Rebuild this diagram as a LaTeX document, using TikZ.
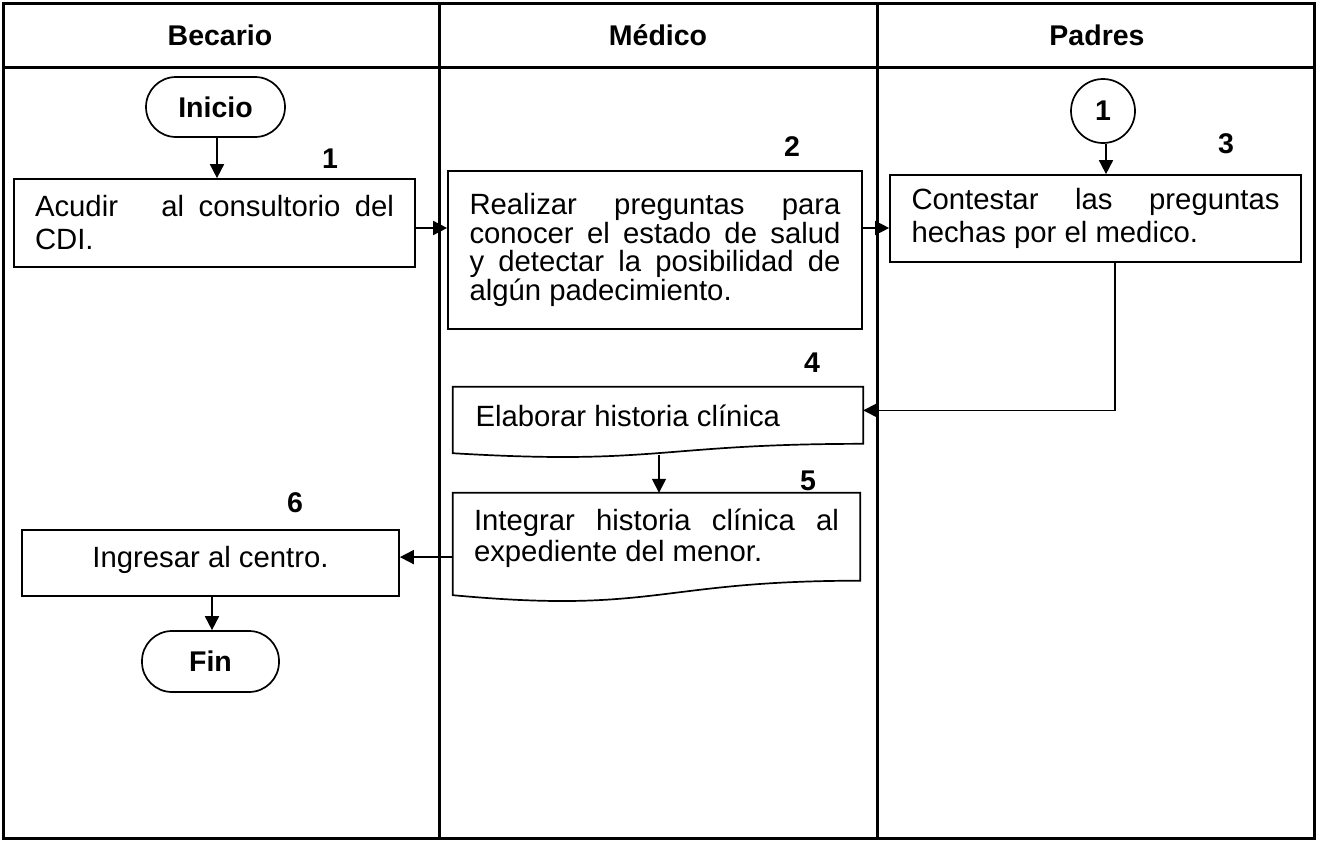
\documentclass[tikz,border=0pt]{standalone}
\usepackage{fontspec}
\setmainfont{Liberation Sans}
\usetikzlibrary{arrows.meta,calc}
\newcommand\docpath[1]{\draw[boxline] (#1.north west) -- (#1.north east) -- ($(#1.north east)!0.802!(#1.south east)$) .. controls ($(#1.north)!0.802!(#1.south)$) and ($(#1.north)!1.1075!(#1.south)$) .. ($(#1.north west)!0.934!(#1.south west)$) -- cycle;}
\tikzset{
  boxline/.style={line width=1.7pt},
  procbox/.style={draw, boxline, rectangle, align=left, inner sep=0pt, font=\fontsize{29.3}{33}\selectfont},
  docbox/.style={rectangle, inner sep=0pt, font=\fontsize{29.3}{30}\selectfont},
  term/.style={draw, boxline, rectangle, rounded corners=30pt, inner sep=0pt, font=\bfseries\fontsize{28.5}{33}\selectfont},
  conn/.style={draw, boxline, circle, inner sep=0pt, minimum size=64pt, font=\bfseries\fontsize{28.5}{33}\selectfont},
  num/.style={font=\bfseries\fontsize{28.5}{33}\selectfont, inner sep=0pt},
  head/.style={font=\bfseries\fontsize{28.5}{33}\selectfont, inner sep=0pt},
  arr/.style={line width=1.7pt, -{Triangle[length=14pt,width=14pt]}},
  frame/.style={line width=3pt}
}
\begin{document}
\begin{tikzpicture}[x=1pt,y=-1pt]
\useasboundingbox (0,0) rectangle (1317,841);
% frame
\draw[frame] (3,3) rectangle (1314,838);
\draw[frame] (3,67) -- (1314,67);
\draw[frame] (439,3) -- (439,838);
\draw[frame] (877,3) -- (877,838);
% headers
\node[head] (h1) at (220,35) {Becario};
\node[head] (h2) at (658,35) {Médico};
\node[head] (h3) at (1097,35) {Padres};
% nodes
\node[term, minimum width=139pt, minimum height=60pt] (ini) at (215.5,107) {Inicio};
\node[procbox, minimum width=401pt, minimum height=88pt] (b1) at (214.5,223)
  {\makebox[359pt][s]{Acudir\ \ \ al consultorio del}\\CDI.};
\node[procbox, font=\fontsize{29.3}{28.5}\selectfont, minimum width=414pt, minimum height=158pt] (b2) at (655,250)
  {\makebox[371pt][s]{Realizar preguntas para}\\\makebox[371pt][s]{conocer el estado de salud}\\\makebox[371pt][s]{y detectar la posibilidad de}\\algún padecimiento.};
\node[procbox, minimum width=411pt, minimum height=87pt] (b3) at (1095.5,218.5)
  {\makebox[368pt][s]{Contestar las preguntas}\\hechas por el medico.};
\node[conn] (c1) at (1103,111) {1};
\node[docbox, minimum width=410pt, minimum height=70.7pt] (b4) at (658,422.35)
  {\raisebox{7pt}[\height][\depth]{\makebox[365pt][l]{Elaborar historia clínica}}};
\docpath{b4}
\node[docbox, minimum width=407pt, minimum height=109.2pt] (b5) at (656.5,547.6)
  {\raisebox{8pt}[\height][\depth]{\begin{tabular}{@{}l@{}}\makebox[365pt][s]{Integrar historia clínica al}\\expediente del menor.\end{tabular}}};
\docpath{b5}
\node[procbox, align=center, minimum width=377pt, minimum height=66pt] (b6) at (210.5,563) {\raisebox{3pt}[\height][\depth]{Ingresar al centro.}};
\node[term, minimum width=137pt, minimum height=61pt] (fin) at (210.5,661.5) {Fin};
% numbers
\node[num] (n1) at (330,159) {1};
\node[num] (n2) at (792,147) {2};
\node[num] (n3) at (1226,144) {3};
\node[num] (n4) at (812,363) {4};
\node[num] (n5) at (808,481) {5};
\node[num] (n6) at (295,503) {6};
% connectors
\draw[arr] ([xshift=1.5pt]ini.south) -- ([xshift=1.5pt]ini.south |- b1.north);
\draw[arr] ([yshift=-5pt]b1.east) -- ([yshift=-5pt]b1.east -| b2.west);
\draw[arr] ([yshift=22pt]b2.east) -- ([yshift=22pt]b2.east -| b3.west);
\draw[arr] ([xshift=3pt]c1.south) -- ([xshift=3pt]c1.south |- b3.north);
\draw[arr] ([xshift=19.5pt]b3.south) |- ([yshift=12pt]b4.east);
\draw[arr] ([xshift=1pt,yshift=3pt]b4.south) -- ([xshift=1pt]b4.south |- b5.north);
\draw[arr] ([yshift=-9.5pt]b5.west) -- ([yshift=-9.5pt]b5.west -| b6.east);
\draw[arr] ([xshift=1.5pt]b6.south) -- ([xshift=1.5pt]b6.south |- fin.north);
\end{tikzpicture}
\end{document}
